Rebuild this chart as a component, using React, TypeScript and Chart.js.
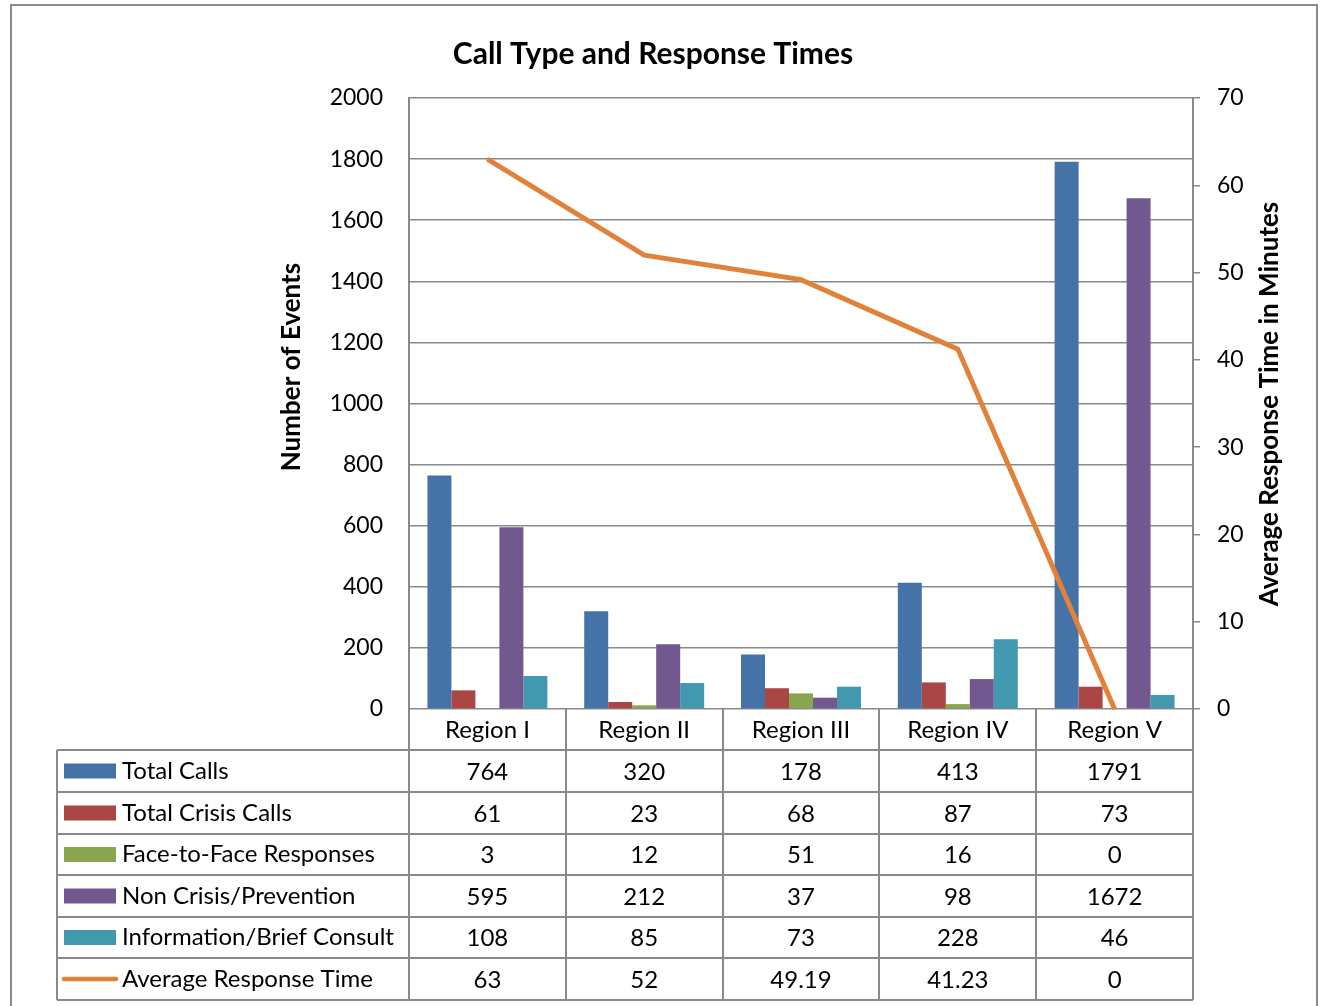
import React, { useEffect, useRef } from "react";
import { Chart, registerables } from "chart.js";

Chart.register(...registerables);

const chartTitle = "Call Type and Response Times";
const leftAxisTitle = "Number of Events";
const rightAxisTitle = "Average Response Time in Minutes";

const categories = ["Region I", "Region II", "Region III", "Region IV", "Region V"];
const totalCalls = [764, 320, 178, 413, 1791];
const totalCrisisCalls = [61, 23, 68, 87, 73];
const faceToFaceResponses = [3, 12, 51, 16, 0];
const nonCrisisPrevention = [595, 212, 37, 98, 1672];
const informationBriefConsult = [108, 85, 73, 228, 46];
const averageResponseTime = [63, 52, 49.19, 41.23, 0];

const barSeriesNames = [
  "Total Calls",
  "Total Crisis Calls",
  "Face-to-Face Responses",
  "Non Crisis/Prevention",
  "Information/Brief Consult",
];
const lineSeriesName = "Average Response Time";
const barColors = ["#4572A7", "#AA4643", "#89A54E", "#71588F", "#4198AF"];
const lineColor = "#E0823A";

const leftAxisMax = 2000;
const leftAxisStep = 200;
const rightAxisMax = 70;
const rightAxisStep = 10;

const FONT = "Lato, 'Open Sans', sans-serif";
const GRID = "#8a8a8a";

const W = 1321;
const H = 1006;

export default function App() {
  const ref = useRef<HTMLCanvasElement | null>(null);

  useEffect(() => {
    const canvas = ref.current;
    if (!canvas) return;

    const barData = [
      totalCalls,
      totalCrisisCalls,
      faceToFaceResponses,
      nonCrisisPrevention,
      informationBriefConsult,
    ];

    const decor = {
      id: "decor",
      beforeDraw(chart: any) {
        const ctx = chart.ctx;
        ctx.save();
        ctx.fillStyle = "#ffffff";
        ctx.fillRect(0, 0, W, H);
        ctx.strokeStyle = "#8c8c8c";
        ctx.lineWidth = 2;
        ctx.beginPath();
        ctx.moveTo(11, H + 2);
        ctx.lineTo(11, 5);
        ctx.lineTo(1317, 5);
        ctx.lineTo(1317, H + 2);
        ctx.stroke();
        ctx.restore();
      },
      afterDraw(chart: any) {
        const ctx = chart.ctx;
        const area = chart.chartArea;
        const xs = chart.scales.x;
        ctx.save();

        // Title
        ctx.fillStyle = "#000";
        ctx.font = `bold 30px ${FONT}`;
        ctx.textAlign = "center";
        ctx.textBaseline = "middle";
        ctx.fillText(chartTitle, 653, 54);

        // Axis titles
        ctx.font = `bold 26px ${FONT}`;
        ctx.save();
        ctx.translate(292, 367);
        ctx.rotate(-Math.PI / 2);
        ctx.fillText(leftAxisTitle, 0, 0);
        ctx.restore();
        ctx.save();
        ctx.translate(1270, 404);
        ctx.rotate(-Math.PI / 2);
        ctx.fillText(rightAxisTitle, 0, 0);
        ctx.restore();

        // Data table
        const rows = [750, 792, 834, 875, 917, 958, 1000];
        const tableLeft = 57;
        const colW = (area.right - area.left) / categories.length;
        const colEdges = categories.map((_, i) => area.left + i * colW);
        colEdges.push(area.right);

        ctx.strokeStyle = GRID;
        ctx.lineWidth = 2;
        ctx.beginPath();
        for (const x of colEdges) {
          ctx.moveTo(Math.round(x), area.bottom);
          ctx.lineTo(Math.round(x), rows[rows.length - 1]);
        }
        ctx.moveTo(tableLeft, rows[0]);
        ctx.lineTo(tableLeft, rows[rows.length - 1]);
        for (const y of rows) {
          ctx.moveTo(tableLeft, y);
          ctx.lineTo(area.right, y);
        }
        ctx.stroke();

        const rowValues: string[][] = [
          ...barData.map((arr) => arr.map((v) => String(v))),
          averageResponseTime.map((v) => String(v)),
        ];
        const rowNames = [...barSeriesNames, lineSeriesName];

        ctx.font = `24px ${FONT}`;
        ctx.textBaseline = "middle";
        for (let r = 0; r < rowNames.length; r++) {
          const cy = (rows[r] + rows[r + 1]) / 2;
          if (r < barColors.length) {
            ctx.fillStyle = barColors[r];
            ctx.fillRect(64, cy - 7.5, 52, 15);
          } else {
            ctx.strokeStyle = lineColor;
            ctx.lineWidth = 4.5;
            ctx.lineCap = "round";
            ctx.beginPath();
            ctx.moveTo(64, cy);
            ctx.lineTo(116, cy);
            ctx.stroke();
          }
          ctx.fillStyle = "#000";
          ctx.textAlign = "left";
          ctx.fillText(rowNames[r], 122, cy);
          ctx.textAlign = "center";
          for (let c = 0; c < categories.length; c++) {
            const cx = xs.getPixelForValue(c);
            ctx.fillText(rowValues[r][c], cx, cy + 1);
          }
        }
        ctx.restore();
      },
    };

    const chart = new Chart(canvas, {
      type: "bar",
      data: {
        labels: categories,
        datasets: [
          ...barSeriesNames.map((name, i) => ({
            type: "bar" as const,
            label: name,
            data: barData[i],
            backgroundColor: barColors[i],
            borderWidth: 0,
            yAxisID: "y",
            order: 1,
            categoryPercentage: 0.765,
            barPercentage: 1,
          })),
          {
            type: "line" as const,
            label: lineSeriesName,
            data: averageResponseTime,
            borderColor: lineColor,
            backgroundColor: lineColor,
            borderWidth: 5,
            pointRadius: 0,
            tension: 0,
            yAxisID: "y1",
            order: 0,
            clip: false as any,
          },
        ],
      } as any,
      options: {
        responsive: false,
        animation: false,
        devicePixelRatio: 1,
        layout: { padding: { left: 0, right: 0, top: 98, bottom: 0 } },
        plugins: {
          legend: { display: false },
          title: { display: false },
          tooltip: { enabled: false },
        },
        scales: {
          x: {
            type: "category",
            offset: true,
            grid: { display: false, drawTicks: false },
            border: { display: false },
            ticks: {
              color: "#000",
              font: { family: FONT, size: 24 },
              padding: 7,
              maxRotation: 0,
              autoSkip: false,
            },
            afterFit: (s: any) => {
              s.height = 297;
            },
          },
          y: {
            position: "left",
            min: 0,
            max: leftAxisMax,
            ticks: {
              stepSize: leftAxisStep,
              color: "#000",
              font: { family: FONT, size: 23 },
              padding: 26,
              callback: (v: any) => String(v),
            },
            grid: { color: GRID, lineWidth: 1.5, drawTicks: false },
            border: { color: GRID, width: 2 },
            afterFit: (s: any) => {
              s.width = 409;
            },
          },
          y1: {
            position: "right",
            min: 0,
            max: rightAxisMax,
            ticks: {
              stepSize: rightAxisStep,
              color: "#000",
              font: { family: FONT, size: 23 },
              padding: 17,
              callback: (v: any) => String(v),
            },
            grid: {
              drawOnChartArea: false,
              drawTicks: true,
              tickLength: 7,
              color: GRID,
              lineWidth: 1.5,
            },
            border: { color: GRID, width: 2 },
            afterFit: (s: any) => {
              s.width = 128;
            },
          },
        },
      } as any,
      plugins: [decor],
    });

    return () => chart.destroy();
  }, []);

  return (
    <div style={{ position: "absolute", left: 0, top: 0, width: W, height: H, background: "#fff" }}>
      <canvas ref={ref} width={W} height={H} style={{ display: "block", width: W, height: H }} />
    </div>
  );
}
